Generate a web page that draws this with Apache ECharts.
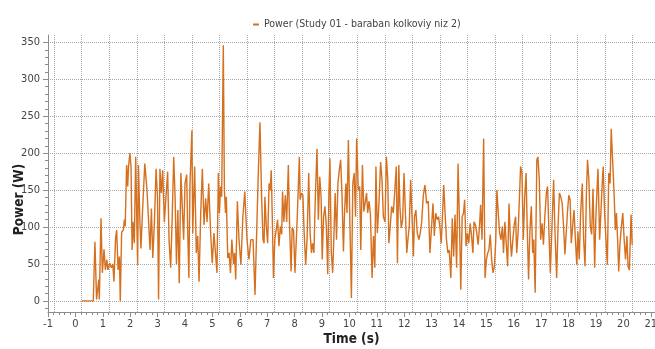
<!DOCTYPE html>
<html><head><meta charset="utf-8">
<script src="https://cdn.jsdelivr.net/npm/echarts@6/dist/echarts.min.js"></script>
<style>html,body{margin:0;padding:0;background:#fff}#c{width:655px;height:349px}</style>
</head><body><div id="c"></div>
<script>
const seriesName = 'Power (Study 01 - baraban kolkoviy niz 2)';
const xTitle = 'Time (s)';
const yTitle = 'Power (W)';
const timeS = [0,0.42,0.48,0.54,0.62,0.64,0.70,0.75,0.81,0.86,0.91,0.95,1.02,1.08,1.13,1.17,1.23,1.27,1.32,1.37,1.40,1.45,1.51,1.55,1.58,1.63,1.67,1.70,1.75,1.79,1.83,1.86,1.91,1.96,1.99,2.03,2.06,2.11,2.15,2.21,2.29,2.37,2.42,2.48,2.53,2.58,2.64,2.70,2.75,2.79,2.84,2.89,2.94,3.00,3.12,3.17,3.23,3.29,3.34,3.39,3.44,3.49,3.54,3.60,3.65,3.70,3.75,3.81,3.85,3.89,3.93,4.00,4.03,4.10,4.16,4.21,4.26,4.32,4.38,4.44,4.50,4.55,4.61,4.68,4.74,4.80,4.86,4.91,4.96,5.00,5.04,5.08,5.14,5.18,5.22,5.25,5.30,5.35,5.40,5.45,5.51,5.55,5.59,5.65,5.71,5.78,5.85,5.92,5.96,6.00,6.07,6.14,6.22,6.29,6.35,6.41,6.47,6.53,6.58,6.62,6.65,6.70,6.75,6.80,6.84,6.88,6.92,6.96,7.01,7.06,7.11,7.16,7.21,7.26,7.29,7.34,7.39,7.44,7.50,7.55,7.60,7.64,7.69,7.74,7.78,7.83,7.90,7.93,7.98,8.03,8.07,8.13,8.18,8.24,8.29,8.34,8.38,8.43,8.48,8.54,8.59,8.64,8.69,8.73,8.78,8.83,8.88,8.93,8.97,9.01,9.06,9.11,9.15,9.20,9.25,9.30,9.35,9.40,9.45,9.50,9.54,9.59,9.63,9.68,9.73,9.79,9.84,9.89,9.94,9.98,10.04,10.09,10.13,10.19,10.24,10.29,10.34,10.38,10.43,10.48,10.54,10.59,10.64,10.68,10.73,10.79,10.85,10.90,10.95,11.01,11.06,11.11,11.15,11.20,11.25,11.31,11.37,11.42,11.46,11.51,11.55,11.60,11.65,11.70,11.75,11.80,11.84,11.89,11.94,11.99,12.04,12.08,12.13,12.18,12.24,12.29,12.34,12.40,12.46,12.52,12.58,12.64,12.70,12.75,12.80,12.85,12.90,12.95,13.00,13.05,13.10,13.14,13.19,13.24,13.29,13.34,13.40,13.45,13.50,13.55,13.61,13.66,13.71,13.76,13.81,13.86,13.90,13.95,14.00,14.05,14.10,14.15,14.20,14.24,14.29,14.34,14.39,14.44,14.48,14.53,14.59,14.64,14.69,14.74,14.78,14.83,14.88,14.93,14.98,15.03,15.07,15.12,15.17,15.22,15.27,15.31,15.36,15.41,15.46,15.51,15.56,15.60,15.65,15.70,15.75,15.79,15.84,15.89,15.93,15.98,16.03,16.08,16.13,16.17,16.22,16.27,16.32,16.37,16.41,16.46,16.52,16.56,16.61,16.66,16.71,16.76,16.81,16.87,16.91,16.96,17.01,17.07,17.13,17.18,17.24,17.29,17.34,17.39,17.44,17.49,17.54,17.58,17.63,17.68,17.73,17.77,17.82,17.87,17.92,17.97,18.01,18.06,18.11,18.17,18.22,18.27,18.32,18.36,18.41,18.46,18.51,18.56,18.62,18.66,18.71,18.74,18.80,18.85,18.90,18.93,18.98,19.03,19.08,19.13,19.18,19.22,19.27,19.32,19.37,19.41,19.46,19.49,19.54,19.59,19.64,19.69,19.74,19.79,19.83,19.88,19.94,19.98];
const powerW = [0,0,80,2,29,2,112,38,70,42,56,42,51,45,50,26,85,96,42,60,0,93,96,110,101,184,155,182,200,182,69,107,78,195,193,49,184,110,71,123,186,150,114,69,125,58,107,179,141,2,179,146,177,107,175,83,45,119,195,141,50,123,24,173,175,83,159,171,92,31,159,231,92,182,65,88,26,119,179,103,139,107,159,92,51,92,94,38,173,119,155,141,346,150,119,141,58,65,38,83,50,65,29,135,83,49,114,148,114,83,56,83,83,8,92,173,242,141,83,78,141,101,78,159,150,177,110,31,83,83,110,74,101,90,148,107,143,107,184,96,40,99,96,38,36,119,195,137,146,143,96,49,83,173,92,65,78,65,141,206,110,168,141,56,114,128,101,36,141,193,65,38,83,146,83,159,177,191,141,67,119,159,119,218,114,4,159,173,114,220,150,155,69,184,121,123,146,119,135,117,31,88,45,182,92,132,188,164,114,107,195,164,78,101,128,119,152,182,51,184,128,99,110,173,119,65,83,101,164,114,60,114,123,92,83,92,107,143,157,132,135,65,101,132,88,119,110,114,101,78,119,157,119,83,65,69,31,112,60,117,45,186,110,15,114,119,137,74,92,78,105,88,65,107,103,92,76,101,130,83,220,31,56,65,69,90,56,38,47,83,150,119,92,83,101,65,107,78,47,132,83,60,83,103,114,65,92,141,182,173,83,141,173,101,29,96,128,65,83,11,191,195,164,83,105,76,114,148,155,92,38,101,164,92,31,101,146,141,132,101,63,63,119,143,137,78,101,123,83,49,94,56,119,159,83,47,146,191,164,101,90,152,45,110,155,179,83,123,164,182,119,83,49,173,159,233,231,150,96,119,76,40,78,101,119,83,56,88,47,42,117,76];
const xTickLabels = [-1,0,1,2,3,4,5,6,7,8,9,10,11,12,13,14,15,16,17,18,19,20,21];
const xGridValues = [-1,0,1,2,3,4,5,6,7,8,9,10,11,12,13,14,15,16,17,18,19,20];
const yTickLabels = [0,50,100,150,200,250,300,350];

const F = "'DejaVu Sans Condensed', 'DejaVu Sans', sans-serif";
const AX = '#8c8c8c';
const GRID = '#a8a8a8';
const LINE = '#D5701F';

const xMinor = [];
for (let i = -1; i < 21; i++) for (let k = 1; k < 5; k++) xMinor.push(+(i + k * 0.2).toFixed(2));
const yMinor = [];
for (let v = -10; v <= 350; v += 10) yMinor.push(v);

const chart = echarts.init(document.getElementById('c'), null, {renderer: 'canvas'});
chart.setOption({
  animation: false,
  backgroundColor: '#fff',
  legend: {
    data: [{name: seriesName, icon: 'rect'}],
    left: 253, top: 19, padding: 0,
    itemWidth: 6, itemHeight: 2, itemGap: 4,
    textStyle: {fontFamily: F, fontSize: 10.5, color: '#444'}
  },
  grid: {left: 48, right: 0, top: 35, bottom: 37, containLabel: false, outerBoundsMode: 'none'},
  xAxis: [
    { // data frame: grid lines only
      type: 'value', position: 'bottom', min: -1.2232, max: 20.8094,
      axisLine: {show: false, onZero: false},
      axisTick: {show: false, customValues: xGridValues},
      axisLabel: {show: false},
      splitLine: {show: true, lineStyle: {color: GRID, type: 'dotted', width: 1}}
    },
    { // label frame
      type: 'value', position: 'bottom', min: -1, max: 21.153,
      axisLine: {show: true, onZero: false, lineStyle: {color: AX, width: 1}},
      axisTick: {show: true, length: 5, customValues: xTickLabels, lineStyle: {color: AX}},
      axisLabel: {show: true, customValues: xTickLabels, margin: 7, fontFamily: F, fontSize: 11, color: '#444'},
      splitLine: {show: false},
      name: xTitle, nameLocation: 'middle', nameGap: 20, nameMoveOverlap: false,
      nameTextStyle: {fontFamily: F, fontWeight: 'bold', fontSize: 13.5, color: '#222'}
    },
    { // minor ticks
      type: 'value', position: 'bottom', min: -1, max: 21.153,
      axisLine: {show: false, onZero: false},
      axisTick: {show: true, length: 3, customValues: xMinor, lineStyle: {color: AX}},
      axisLabel: {show: false},
      splitLine: {show: false}
    }
  ],
  yAxis: [
    {
      type: 'value', position: 'left', min: -15, max: 360,
      axisLine: {show: true, onZero: false, lineStyle: {color: AX, width: 1}},
      axisTick: {show: true, length: 5, customValues: yTickLabels, lineStyle: {color: AX}},
      axisLabel: {show: true, customValues: yTickLabels, margin: 8, fontFamily: F, fontSize: 11, color: '#444'},
      splitLine: {show: true, lineStyle: {color: GRID, type: 'dotted', width: 1}},
      name: yTitle, nameLocation: 'middle', nameGap: 22, nameMoveOverlap: false,
      nameTextStyle: {fontFamily: F, fontWeight: 'bold', fontSize: 13.5, color: '#222', padding: [0, 52, 0, 0]}
    },
    {
      type: 'value', position: 'left', min: -15, max: 360,
      axisLine: {show: false, onZero: false},
      axisTick: {show: true, length: 3, customValues: yMinor, lineStyle: {color: AX}},
      axisLabel: {show: false},
      splitLine: {show: false}
    }
  ],
  series: [{
    name: seriesName,
    type: 'line',
    xAxisIndex: 0, yAxisIndex: 0,
    data: timeS.map((t, i) => [t, powerW[i]]),
    symbol: 'none',
    lineStyle: {color: LINE, width: 1.4},
    itemStyle: {color: LINE}
  }]
});
</script>
</body></html>
